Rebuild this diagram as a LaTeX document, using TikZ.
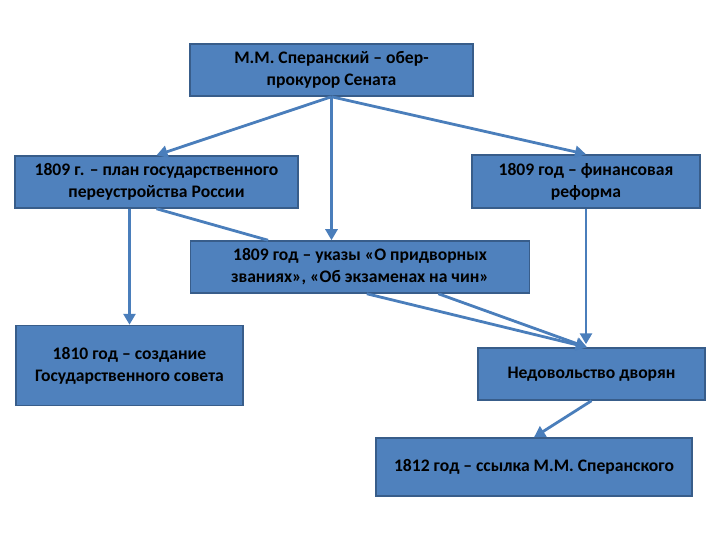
\documentclass[tikz,border=0pt]{standalone}
\usepackage{fontspec}
\setmainfont{Carlito}
\usepackage{tikz}
\usetikzlibrary{arrows.meta,calc}
\definecolor{boxblue}{HTML}{4F81BD}
\definecolor{boxedge}{HTML}{385D8A}
\definecolor{linkblue}{HTML}{4A7EBB}

\begin{document}
\begin{tikzpicture}[x=1pt,y=-1pt,>={Triangle[length=11pt,width=12pt]},
  font=\fontsize{17.6}{22}\selectfont\bfseries,
  stage/.style={draw=boxedge,line width=1.5pt,fill=boxblue,align=center,inner sep=2pt},
  link/.style={draw=linkblue,line width=2.8pt}]
\useasboundingbox (0,0) rectangle (720,540);
% top: the ober-procurator
\node[stage,minimum width=283pt,minimum height=52pt] (ober) at (331.5,70) {М.М. Сперанский -- обер-\\прокурор Сената};
% second row
\node[stage,minimum width=283pt,minimum height=52pt] (plan) at (156.5,182) {1809 г. -- план государственного\\переустройства России};
\node[stage,minimum width=228pt,minimum height=53pt] (finance) at (586,181.5) {1809 год -- финансовая\\реформа};
\node[stage,minimum width=339pt,minimum height=52pt] (decrees) at (360,267) {1809 год -- указы «О придворных\\званиях», «Об экзаменах на чин»};
% lower rows
\node[stage,minimum width=227pt,minimum height=80pt] (council) at (129.5,365.5) {1810 год -- создание\\Государственного совета};
\node[stage,minimum width=227pt,minimum height=52pt] (nobles) at (591.5,374) {Недовольство дворян};
\node[stage,minimum width=316pt,minimum height=58pt] (exile) at (534,467) {1812 год -- ссылка М.М. Сперанского};
% connectors
\coordinate (meet) at ($(nobles.north west)!0.48!(nobles.north east)$);
\draw[link,->] (ober.south) -- (plan.north);
\draw[link,->] (ober.south) -- (finance.north);
\draw[link,->] (ober.south) -- (ober.south |- decrees.north);
\draw[link,->] (council.north |- plan.south) -- (council.north);
\draw[link] (plan.south) -- ($(decrees.north west)!0.23!(decrees.north east)$);
\draw[link,->] (finance.south) -- ($(finance.south |- nobles.north)+(0,-3)$);
\draw[link,->] ($(decrees.south west)!0.52!(decrees.south east)$) -- (meet);
\draw[link,->] ($(decrees.south west)!0.73!(decrees.south east)$) -- (meet);
\draw[link,->] (nobles.south) -- (exile.north);
\end{tikzpicture}
\end{document}
